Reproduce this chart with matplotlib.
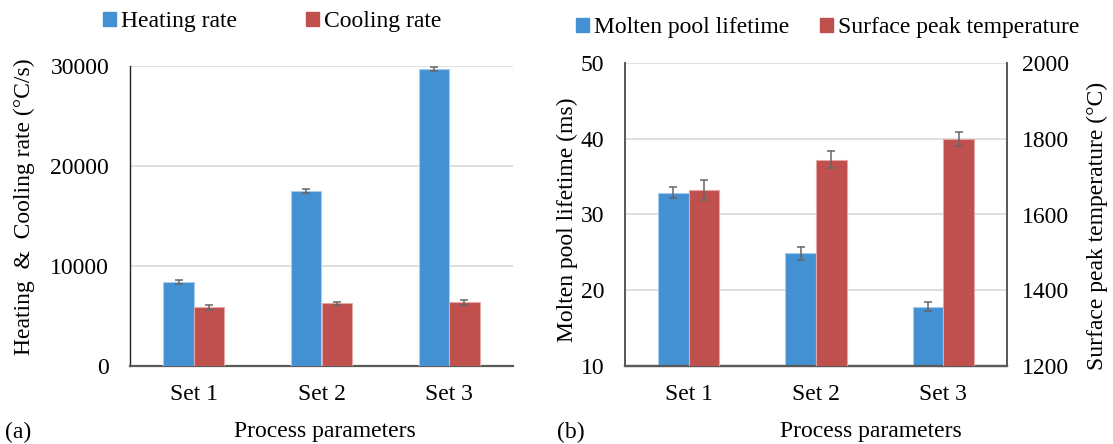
import matplotlib
matplotlib.use("Agg")
import matplotlib.pyplot as plt
import numpy as np
from matplotlib.patches import Patch

plt.rcParams["font.family"] = ["Liberation Serif", "DejaVu Serif"]
plt.rcParams["font.size"] = 17

W, H = 1113, 444

categories = ["Set 1", "Set 2", "Set 3"]

# (a) thermal rates, °C/s
heating_rate = [8450, 17500, 29700]
heating_err = [200, 230, 180]
cooling_rate = [5870, 6270, 6370]
cooling_err = [230, 150, 220]

# (b) molten pool lifetime (ms) and surface peak temperature (°C)
pool_lifetime = [32.9, 24.9, 17.8]
pool_err = [0.7, 0.86, 0.6]
peak_temp = [1665, 1745, 1800]
peak_err = [26, 22, 18]

BLUE = "#4390D3"
RED = "#C0504D"
BLUE_EDGE = "#A9CBEA"
RED_EDGE = "#E3A8A6"
GRID = "#D9D9D9"
SPINE = "#595959"
ERR = "#666666"

fig = plt.figure(figsize=(W / 100, H / 100), dpi=100)


def px_rect(left, top, right, bottom):
    return [left / W, 1 - bottom / H, (right - left) / W, (bottom - top) / H]


x = np.arange(len(categories))
err_kw = dict(ecolor=ERR, elinewidth=1.1, capsize=3, capthick=1.1)
bar_w = 0.24

# ---------- (a) ----------
axa = fig.add_axes(px_rect(130, 66, 513, 366))
axa.bar(x - bar_w / 2, heating_rate, bar_w, yerr=heating_err, color=BLUE,
        edgecolor=BLUE_EDGE, linewidth=0.8, error_kw=err_kw, zorder=3)
axa.bar(x + bar_w / 2, cooling_rate, bar_w, yerr=cooling_err, color=RED,
        edgecolor=RED_EDGE, linewidth=0.8, error_kw=err_kw, zorder=3)
axa.set_xlim(-0.5, 2.5)
axa.set_ylim(0, 30000)
axa.set_yticks([0, 10000, 20000, 30000])
axa.set_xticks(x)
axa.set_xticklabels(categories)
axa.yaxis.grid(True, color=GRID, linewidth=1.2, zorder=0)
axa.set_axisbelow(True)
for s in ["top", "right"]:
    axa.spines[s].set_visible(False)
axa.spines["left"].set_color("#222222")
axa.spines["left"].set_linewidth(1.0)
axa.spines["bottom"].set_color(SPINE)
axa.spines["bottom"].set_linewidth(1.6)
axa.tick_params(axis="y", length=0, pad=15)
axa.tick_params(axis="x", length=0, pad=13)
axa.set_ylabel("Heating  &  Cooling rate (°C/s)")
axa.yaxis.label.set_va("center")
axa.yaxis.set_label_coords((24 - 130) / 383, 0.5 + 9 / 300)
axa.set_xlabel("Process parameters")
axa.xaxis.label.set_va("center")
axa.xaxis.set_label_coords((325 - 130) / 383, (366 - 431) / 300)

fig.legend(handles=[Patch(color=BLUE, label="Heating rate"),
                    Patch(color=RED, label="Cooling rate")],
           loc="center", bbox_to_anchor=(272 / W, 1 - 22 / H), ncol=2,
           frameon=False, handlelength=0.55, handleheight=0.55,
           handletextpad=0.22, columnspacing=2.9, borderaxespad=0,
           borderpad=0)

fig.text(5 / W, 1 - 432 / H, "(a)", ha="left", va="center")

# ---------- (b) ----------
axb = fig.add_axes(px_rect(625, 63, 1007, 366))
axt = axb.twinx()
axb.bar(x - bar_w / 2, pool_lifetime, bar_w, yerr=pool_err, color=BLUE,
        edgecolor=BLUE_EDGE, linewidth=0.8, error_kw=err_kw, zorder=3)
axt.bar(x + bar_w / 2, peak_temp, bar_w, yerr=peak_err, color=RED,
        edgecolor=RED_EDGE, linewidth=0.8, error_kw=err_kw, zorder=3)
axb.set_xlim(-0.5, 2.5)
axb.set_ylim(10, 50)
axb.set_yticks([10, 20, 30, 40, 50])
axt.set_ylim(1200, 2000)
axt.set_yticks([1200, 1400, 1600, 1800, 2000])
axb.set_xticks(x)
axb.set_xticklabels(categories)
axb.yaxis.grid(True, color=GRID, linewidth=1.2, zorder=0)
axb.set_axisbelow(True)
for a in (axb, axt):
    a.spines["top"].set_visible(False)
    a.spines["left"].set_color(SPINE)
    a.spines["right"].set_color(SPINE)
    a.spines["left"].set_linewidth(1.3)
    a.spines["right"].set_linewidth(1.3)
    a.spines["bottom"].set_color(SPINE)
    a.spines["bottom"].set_linewidth(1.6)
axb.tick_params(axis="y", length=0, pad=15)
axt.tick_params(axis="y", length=0, pad=11)
axb.tick_params(axis="x", length=0, pad=13)
axb.set_ylabel("Molten pool lifetime (ms)")
axb.yaxis.label.set_va("center")
axb.yaxis.set_label_coords((567 - 625) / 382, 0.5 - 5 / 303)
axt.set_ylabel("Surface peak temperature (°C)")
axt.yaxis.label.set_va("center")
axt.yaxis.set_label_coords((1097 - 625) / 382, 0.5 - 11 / 303)
axb.set_xlabel("Process parameters")
axb.xaxis.label.set_va("center")
axb.xaxis.set_label_coords((871 - 625) / 382, (366 - 431) / 303)

fig.legend(handles=[Patch(color=BLUE, label="Molten pool lifetime"),
                    Patch(color=RED, label="Surface peak temperature")],
           loc="center", bbox_to_anchor=(828 / W, 1 - 28 / H), ncol=2,
           frameon=False, handlelength=0.55, handleheight=0.55,
           handletextpad=0.22, columnspacing=1.3, borderaxespad=0,
           borderpad=0)

fig.text(557 / W, 1 - 432 / H, "(b)", ha="left", va="center")

fig.savefig("out.png", dpi=100)
